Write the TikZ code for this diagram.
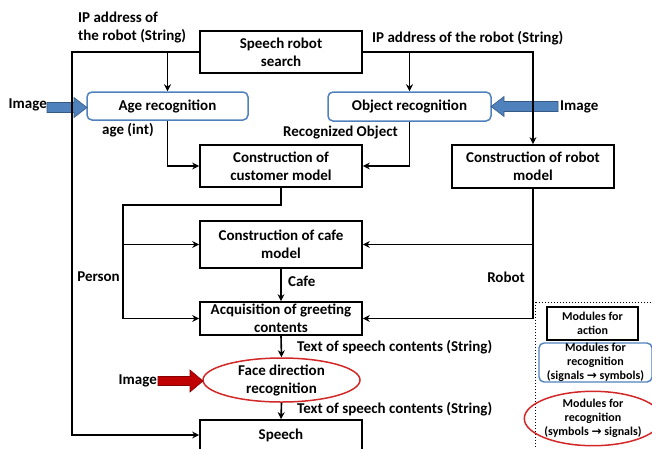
\documentclass[tikz,border=0pt]{standalone}
\usepackage{fontspec}
\setmainfont{Carlito}
\newfontfamily\symfont{DejaVu Sans}
\usetikzlibrary{arrows.meta,shapes.geometric}
\definecolor{recblue}{RGB}{79,129,189}
\definecolor{blockblue}{RGB}{79,129,189}
\definecolor{recred}{RGB}{210,40,40}
\definecolor{blockred}{RGB}{192,0,0}
\tikzset{
  base/.style={font=\fontsize{15}{18}\selectfont\bfseries, align=center, inner sep=1pt},
  actbox/.style={base, draw=black, line width=1.7pt, minimum width=162pt},
  recbox/.style={base, draw=recblue, line width=1.5pt, rounded corners=5pt},
  recell/.style={base, ellipse, draw=recred, line width=1.5pt, inner sep=0pt},
  lbl/.style={font=\fontsize{15}{18}\selectfont\bfseries, align=left, inner sep=0pt},
  legtxt/.style={font=\fontsize{12}{14}\selectfont\bfseries, align=center, inner sep=0pt},
  conn/.style={line width=1.6pt, -{Stealth[length=7pt,width=7pt]}},
}
\begin{document}
\begin{tikzpicture}[x=1pt,y=-1pt]
\useasboundingbox (0,0) rectangle (652,448);
\clip (0,0) rectangle (652,448);

% module boxes
\node[actbox, minimum height=42pt] (search) at (281,52) {Speech robot\\search};
\node[recbox, minimum width=161pt, minimum height=28pt] (age) at (167.5,106) {Age recognition};
\node[recbox, minimum width=163pt, minimum height=29pt] (obj) at (409.5,106.5) {Object recognition};
\node[actbox, minimum height=42pt] (cust) at (281,166) {Construction of\\customer model};
\node[actbox, minimum height=43pt] (robotm) at (533,166.5) {Construction of robot\\model};
\node[actbox, minimum height=47pt] (cafe) at (281,244.5) {Construction of cafe\\model};
\node[actbox, minimum height=33pt] (acq) at (281,318.5) {Acquisition of greeting\\contents};
\node[recell, minimum width=157pt, minimum height=44pt] (face) at (281.5,380) {Face direction\\recognition};
\node[actbox, minimum height=30pt] (speech) at (281,435) {Speech};

% image inputs (block arrows)
\fill[blockblue, draw=blockblue!70!black, line width=0.6pt]
  (47,102.5) -- (74,102.5) -- (74,97.5) -- (87,107.5) -- (74,117.5) -- (74,112.5) -- (47,112.5) -- cycle;
\fill[blockblue, draw=blockblue!70!black, line width=0.6pt]
  (558,101.5) -- (504,101.5) -- (504,96.5) -- (491,106.5) -- (504,116.5) -- (504,111.5) -- (558,111.5) -- cycle;
\fill[blockred, draw=blockred!70!black, line width=0.6pt]
  (158,376.5) -- (190,376.5) -- (190,370) -- (203,381) -- (190,392) -- (190,385.5) -- (158,385.5) -- cycle;
\node[lbl, anchor=east] (imgl) at (47,105) {Image};
\node[lbl, anchor=west] (imgr) at (560,107) {Image};
\node[lbl, anchor=east] (imgf) at (157,381) {Image};

% connectors
\coordinate (lcorner) at (72,52);
\draw[conn] (search.west) -- (lcorner) |- (speech.west);
\draw[conn] (age.north |- search.west) -- (age.north);
\draw[conn] (search.east) -| (robotm.north);
\draw[conn] (obj.north |- search.east) -- (obj.north);
\draw[conn] (age.south) |- (cust.west);
\draw[conn] (obj.south) |- (cust.east);

\coordinate (pbend) at (281,205);
\coordinate (pcol) at (123,205);
\draw[conn] (cust.south) -- (pbend) -- (pcol) |- (acq.west);
\draw[conn] (pcol |- cafe.west) -- (cafe.west);
\draw[conn] (robotm.south) |- (acq.east);
\draw[conn] (robotm.south |- cafe.east) -- (cafe.east);
\draw[conn] (cafe.south) -- (acq.north);
\draw[conn] (acq.south) -- (face.north);
\draw[conn] (face.south) -- (speech.north);

% data labels
\node[lbl, anchor=west] (ipl) at (78,28) {IP address of\\the robot (String)};
\node[lbl, anchor=west] (ipr) at (372,38) {IP address of the robot (String)};
\node[lbl, anchor=west] (agel) at (102,130) {age (int)};
\node[lbl, anchor=east] (objl) at (398,133) {Recognized Object};
\node[lbl, anchor=east] (perl) at (120,277) {Person};
\node[lbl, anchor=east] (robl) at (525,277) {Robot};
\node[lbl, anchor=west] (cafl) at (288,281) {Cafe};
\node[lbl, anchor=west] (txt1) at (297,347) {Text of speech contents (String)};
\node[lbl, anchor=west] (txt2) at (297,409) {Text of speech contents (String)};

% legend
\draw[line width=1pt, dotted] (535,302) rectangle (665,470);
\node[legtxt, draw=black, line width=1.5pt, minimum width=91pt, minimum height=33pt] (legact) at (592.5,323.5) {Modules for\\action};
\node[legtxt, draw=recblue, line width=1.4pt, rounded corners=5pt, minimum width=113pt, minimum height=39pt] (legrec) at (595.5,362.5) {Modules for\\recognition\\(signals {\symfont\bfseries →} symbols)};
\node[legtxt, ellipse, draw=recred, line width=1.5pt, minimum width=110pt, minimum height=51pt] (legsym) at (593,418.5) {Modules for\\recognition\\(symbols {\symfont\bfseries →} signals)};
\end{tikzpicture}
\end{document}
